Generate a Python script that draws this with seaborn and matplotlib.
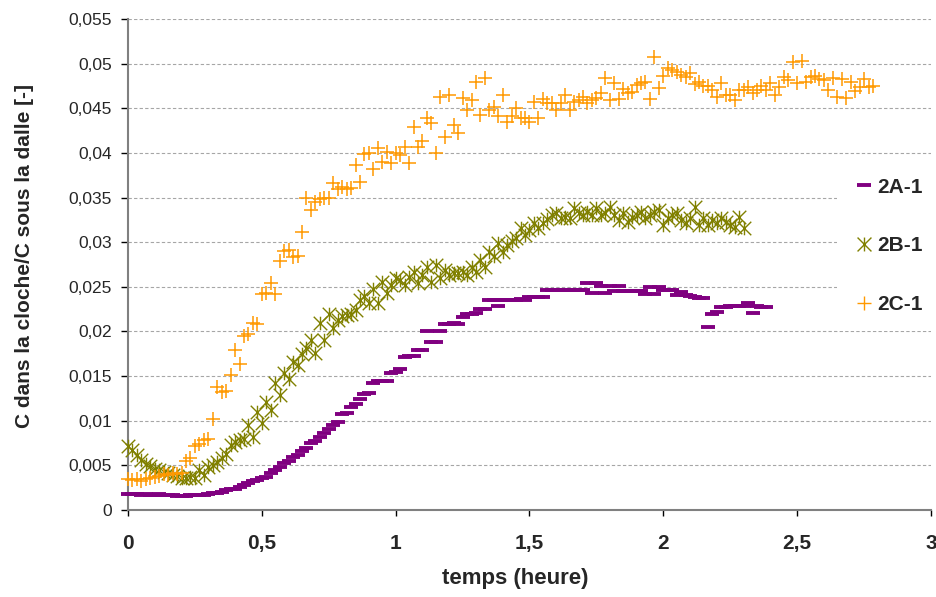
import numpy as np
import pandas as pd
import matplotlib
matplotlib.use("Agg")
import matplotlib.pyplot as plt
from matplotlib.path import Path
from matplotlib.lines import Line2D
import seaborn as sns

# ---------------- data ----------------
sample_step_h = 1 / 60  # one reading per minute, time in hours

y_2A = [0.0018, 0.0018, 0.0018, 0.0017, 0.0018, 0.0017, 0.0017, 0.0018, 0.0017, 0.0017,
        0.0017, 0.0016, 0.0016, 0.0016, 0.0017, 0.0017, 0.0017, 0.0017, 0.0018, 0.0019,
        0.0019, 0.0020, 0.0022, 0.0023, 0.0024, 0.0026, 0.0028, 0.0030, 0.0033, 0.0034,
        0.0036, 0.0037, 0.0041, 0.0045, 0.0048, 0.0053, 0.0055, 0.0059, 0.0062, 0.0066,
        0.0069, 0.0075, 0.0077, 0.0082, 0.0086, 0.0091, 0.0095, 0.0099, 0.0108, 0.0109,
        0.0115, 0.0119, 0.0124, 0.0130, 0.0131, 0.0142, 0.0144, 0.0145, 0.0145, 0.0154,
        0.0155, 0.0158, 0.0171, 0.0172, 0.0173, 0.0179, 0.0179, 0.0200, 0.0188, 0.0188,
        0.0201, 0.0208, 0.0208, 0.0209, 0.0208, 0.0216, 0.0220, 0.0220, 0.0221, 0.0225,
        0.0225, 0.0235, 0.0235, 0.0228, 0.0235, 0.0235, 0.0235, 0.0235, 0.0236, 0.0235,
        0.0239, 0.0239, 0.0239, 0.0239, 0.0246, 0.0246, 0.0246, 0.0246, 0.0246, 0.0247,
        0.0246, 0.0246, 0.0246, 0.0254, 0.0243, 0.0254, 0.0251, 0.0243, 0.0251, 0.0245,
        0.0251, 0.0245, 0.0245, 0.0245, 0.0245, 0.0245, 0.0242, 0.0250, 0.0242, 0.0250,
        0.0246, 0.0246, 0.0246, 0.0241, 0.0244, 0.0241, 0.0240, 0.0239, 0.0238, 0.0238,
        0.0205, 0.0220, 0.0222, 0.0227, 0.0227, 0.0229, 0.0229, 0.0229, 0.0229, 0.0232,
        0.0221, 0.0229, 0.0227, 0.0227]

y_2B = [0.0072, 0.0067, 0.0062, 0.0056, 0.0051, 0.0049, 0.0046, 0.0045, 0.0043, 0.0041,
        0.0039, 0.0038, 0.0036, 0.0036, 0.0037, 0.0036, 0.0045, 0.0039, 0.0048, 0.0050,
        0.0054, 0.0058, 0.0063, 0.0073, 0.0076, 0.0078, 0.0080, 0.0095, 0.0082, 0.0110,
        0.0097, 0.0121, 0.0112, 0.0142, 0.0129, 0.0153, 0.0147, 0.0166, 0.0162, 0.0175,
        0.0181, 0.0190, 0.0176, 0.0209, 0.0190, 0.0220, 0.0204, 0.0213, 0.0217, 0.0218,
        0.0220, 0.0224, 0.0235, 0.0240, 0.0232, 0.0248, 0.0232, 0.0255, 0.0243, 0.0252,
        0.0260, 0.0258, 0.0252, 0.0261, 0.0267, 0.0254, 0.0263, 0.0272, 0.0255, 0.0274,
        0.0260, 0.0269, 0.0263, 0.0265, 0.0266, 0.0267, 0.0263, 0.0272, 0.0267, 0.0280,
        0.0272, 0.0289, 0.0284, 0.0299, 0.0289, 0.0297, 0.0301, 0.0305, 0.0316, 0.0308,
        0.0314, 0.0321, 0.0316, 0.0321, 0.0326, 0.0330, 0.0333, 0.0327, 0.0328, 0.0327,
        0.0338, 0.0333, 0.0330, 0.0334, 0.0331, 0.0338, 0.0330, 0.0333, 0.0340, 0.0330,
        0.0325, 0.0333, 0.0323, 0.0328, 0.0331, 0.0334, 0.0327, 0.0330, 0.0334, 0.0336,
        0.0319, 0.0327, 0.0330, 0.0333, 0.0325, 0.0321, 0.0327, 0.0340, 0.0319, 0.0327,
        0.0319, 0.0325, 0.0321, 0.0327, 0.0323, 0.0319, 0.0317, 0.0328, 0.0316]

y_2C = [0.0035, 0.0034, 0.0035, 0.0033, 0.0035, 0.0036, 0.0037, 0.0038, 0.0040, 0.0039,
        0.0041, 0.0040, 0.0042, 0.0055, 0.0058, 0.0072, 0.0074, 0.0078, 0.0079, 0.0102,
        0.0138, 0.0132, 0.0133, 0.0151, 0.0179, 0.0164, 0.0195, 0.0197, 0.0209, 0.0208,
        0.0242, 0.0243, 0.0254, 0.0242, 0.0279, 0.0290, 0.0291, 0.0283, 0.0284, 0.0311,
        0.0350, 0.0336, 0.0345, 0.0348, 0.0350, 0.0349, 0.0366, 0.0360, 0.0362, 0.0360,
        0.0361, 0.0386, 0.0368, 0.0399, 0.0400, 0.0382, 0.0406, 0.0390, 0.0401, 0.0389,
        0.0400, 0.0398, 0.0407, 0.0389, 0.0429, 0.0407, 0.0413, 0.0439, 0.0433, 0.0400,
        0.0463, 0.0418, 0.0465, 0.0431, 0.0422, 0.0461, 0.0448, 0.0459, 0.0480, 0.0442,
        0.0484, 0.0448, 0.0452, 0.0441, 0.0465, 0.0435, 0.0441, 0.0450, 0.0439, 0.0439,
        0.0435, 0.0457, 0.0439, 0.0460, 0.0456, 0.0456, 0.0448, 0.0456, 0.0465, 0.0448,
        0.0457, 0.0459, 0.0463, 0.0456, 0.0459, 0.0461, 0.0467, 0.0484, 0.0459, 0.0478,
        0.0460, 0.0472, 0.0467, 0.0468, 0.0476, 0.0478, 0.0480, 0.0460, 0.0507, 0.0473,
        0.0486, 0.0495, 0.0493, 0.0491, 0.0487, 0.0485, 0.0489, 0.0477, 0.0480, 0.0475,
        0.0475, 0.0470, 0.0463, 0.0478, 0.0465, 0.0465, 0.0459, 0.0470, 0.0471, 0.0474,
        0.0467, 0.0471, 0.0475, 0.0470, 0.0478, 0.0465, 0.0474, 0.0485, 0.0482, 0.0502,
        0.0478, 0.0503, 0.0480, 0.0485, 0.0486, 0.0483, 0.0482, 0.0471, 0.0484, 0.0463,
        0.0483, 0.0461, 0.0480, 0.0469, 0.0474, 0.0483, 0.0474, 0.0475]

series_names = ["2A-1", "2B-1", "2C-1"]
series_colors = ["#800080", "#808000", "#FF9900"]

xticks = [0, 0.5, 1, 1.5, 2, 2.5, 3]
xtick_labels = ["0", "0,5", "1", "1,5", "2", "2,5", "3"]
yticks = [0, 0.005, 0.01, 0.015, 0.02, 0.025, 0.03, 0.035, 0.04, 0.045, 0.05, 0.055]
ytick_labels = ["0", "0,005", "0,01", "0,015", "0,02", "0,025", "0,03", "0,035",
                "0,04", "0,045", "0,05", "0,055"]

x_label = "temps (heure)"
y_label = "C dans la cloche/C sous la dalle [-]"

# ---------------- build table ----------------
frames = []
for name, vals in zip(series_names, [y_2A, y_2B, y_2C]):
    t = np.arange(len(vals)) * sample_step_h
    frames.append(pd.DataFrame({"temps": t, "ratio": vals, "serie": name}))
df = pd.concat(frames, ignore_index=True)

# ---------------- style ----------------
sns.set_style("white")
plt.rcParams["font.family"] = ["Liberation Sans", "DejaVu Sans"]

# Excel-like "star" marker: an X with a vertical bar
star_path = Path(
    [(-0.5, -0.5), (0.5, 0.5), (-0.5, 0.5), (0.5, -0.5), (0.0, -0.5), (0.0, 0.5)],
    [Path.MOVETO, Path.LINETO, Path.MOVETO, Path.LINETO, Path.MOVETO, Path.LINETO],
)

fig = plt.figure(figsize=(9.37, 5.97), dpi=100)
ax = fig.add_axes([0.1366, 0.1457, 0.857, 0.8224])

d = df[df.serie == "2A-1"]
sns.scatterplot(data=d, x="temps", y="ratio", ax=ax, marker="_", s=95,
                linewidth=2.8, color=series_colors[0], clip_on=False, zorder=3)
d = df[df.serie == "2B-1"]
sns.scatterplot(data=d, x="temps", y="ratio", ax=ax, marker=star_path, s=95,
                linewidth=1.0, color=series_colors[1], edgecolor=series_colors[1],
                clip_on=False, zorder=4)
d = df[df.serie == "2C-1"]
sns.scatterplot(data=d, x="temps", y="ratio", ax=ax, marker="+", s=95,
                linewidth=1.1, color=series_colors[2], clip_on=False, zorder=5)

ax.set_xlim(0, 3)
ax.set_ylim(0, 0.055)
ax.set_xticks(xticks)
ax.set_xticklabels(xtick_labels, fontsize=15, fontweight="bold")
ax.set_yticks(yticks)
ax.set_yticklabels(ytick_labels, fontsize=12.5)

ax.yaxis.grid(True, color="#a6a6a6", linestyle=(0, (3, 2)), linewidth=0.8)
ax.xaxis.grid(False)
ax.set_axisbelow(True)

for side in ["top", "right"]:
    ax.spines[side].set_visible(False)
for side in ["left", "bottom"]:
    ax.spines[side].set_color("#808080")
    ax.spines[side].set_linewidth(1.5)

ax.tick_params(axis="y", direction="out", length=5, width=1, color="black",
               pad=6.5, left=True)
ax.tick_params(axis="x", direction="out", length=4.5, width=1, color="black",
               pad=13, bottom=True)

ax.set_xlabel(x_label, fontsize=16, fontweight="bold")
ax.set_ylabel(y_label, fontsize=15, fontweight="bold")
ax.xaxis.set_label_coords(0.482, -0.118)
ax.yaxis.set_label_coords(-0.117, 0.517)

handles = [
    Line2D([], [], linestyle="none", marker="_", color=series_colors[0],
           markersize=10, markeredgewidth=2.8),
    Line2D([], [], linestyle="none", marker=star_path, color=series_colors[1],
           markerfacecolor="none", markersize=10, markeredgewidth=1.0),
    Line2D([], [], linestyle="none", marker="+", color=series_colors[2],
           markersize=10, markeredgewidth=1.0),
]
leg = ax.legend(handles, series_names, loc="center left", bbox_to_anchor=(0.87, 0.538),
                frameon=True, facecolor="white", edgecolor="none", framealpha=1,
                fancybox=False, prop={"weight": "bold", "size": 15},
                labelspacing=1.9, handlelength=1.0, handletextpad=0.12, borderpad=0.8)

fig.savefig("out.png", dpi=100)
